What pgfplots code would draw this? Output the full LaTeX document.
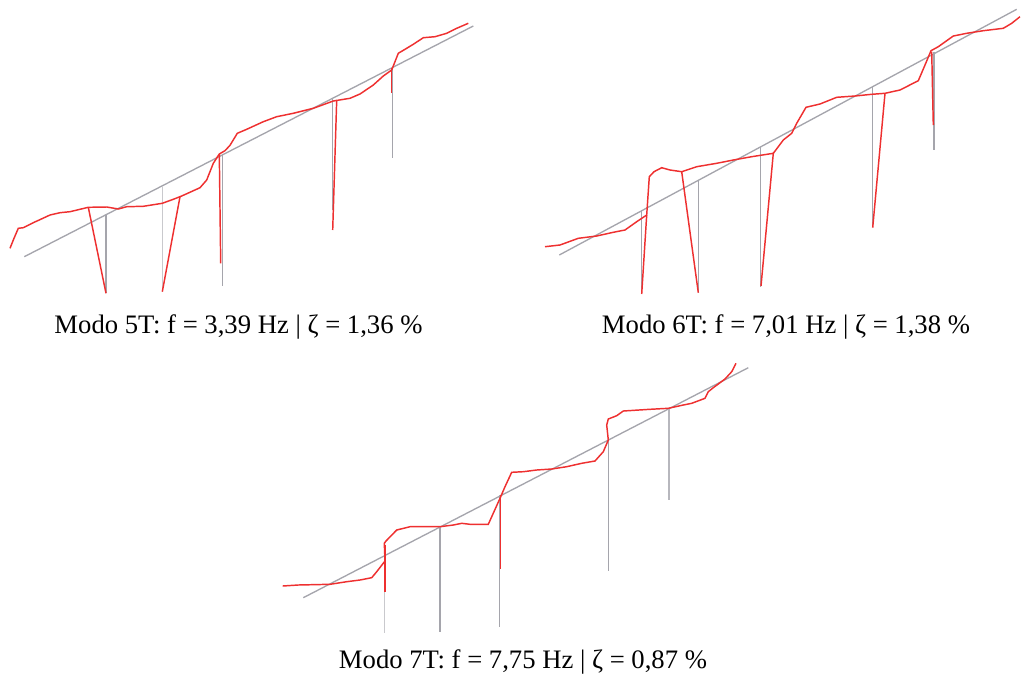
\documentclass[border=0pt]{standalone}
\usepackage{pgfplots}
\pgfplotsset{compat=1.18}
\usepackage{fontspec}
\setmainfont{Liberation Serif}
\definecolor{grayline}{RGB}{165,165,172}
\definecolor{redline}{RGB}{238,48,48}
\begin{document}
\begin{tikzpicture}
\begin{axis}[
  scale only axis, width=765.75pt, height=514.5pt,
  xmin=0, xmax=1021, ymin=0, ymax=686, y dir=reverse,
  hide axis, clip=false,
  every axis plot/.append style={no markers},
]
\path (axis cs:0,0) rectangle (axis cs:1021,686);
% ---------- Panel 1 (Modo 5T) ----------
\addplot[grayline, line width=1pt] coordinates {(24.3,256.7) (473.3,26)};
\addplot[grayline, line width=1pt] coordinates {(106,215) (106,293)};
\addplot[grayline!60, line width=1pt] coordinates {(162.3,186) (162.3,291.7)};
\addplot[grayline, line width=1pt] coordinates {(222.3,154) (222.3,286)};
\addplot[grayline, line width=1pt] coordinates {(332.7,99) (332.7,210)};
\addplot[grayline, line width=1pt] coordinates {(392.7,66.7) (392.7,158.3)};
\addplot[redline, line width=1.1pt] coordinates {
(10,248.3) (14,238.3) (18.3,228.3) (23.3,227.7) (33.3,222.7) (50,215) (60,212.7) (70,211.7) (80,209.3) (88.3,207.3) (106.7,207) (118.3,209) (126.7,206.7) (143.3,206.3) (162.3,203.3) (173.3,199.3) (181.7,196) (200,187.7) (206.7,180) (213.3,163.3) (219.3,154) (225,150.7) (230,145.3) (237.3,133.3) (246.7,129.3) (263.3,121.7) (276.7,116.7) (293.3,113.3) (313.3,108.3) (333.3,101) (350,98.3) (360,94) (373.3,85) (383.3,76) (391.7,70) (398.3,53.3) (405,49.3) (413.3,44.3) (423.3,37.7) (435,36.7) (446.7,33.3) (456.7,28.3) (468.3,23.3)};
\addplot[redline, line width=1.1pt] coordinates {(88.3,207.3) (106,293.3)};
\addplot[redline, line width=1.1pt] coordinates {(180,196.7) (162.3,291.7)};
\addplot[redline, line width=1.1pt] coordinates {(219.3,154) (220.7,263.3)};
\addplot[redline, line width=1.1pt] coordinates {(336.7,100) (332.7,230)};
\addplot[redline, line width=1.1pt] coordinates {(391.7,68.3) (391.7,93.3)};
% ---------- Panel 2 (Modo 6T) ----------
\addplot[grayline, line width=1pt] coordinates {(559.3,255) (1016.7,9.3)};
\addplot[grayline, line width=1pt] coordinates {(641.7,210) (641.7,293.3)};
\addplot[grayline, line width=1pt] coordinates {(698.3,180) (698.3,293.3)};
\addplot[grayline, line width=1pt] coordinates {(760.7,146.7) (760.7,286.7)};
\addplot[grayline, line width=1pt] coordinates {(872.3,86) (872.3,226.7)};
\addplot[grayline, line width=1pt] coordinates {(934,51.7) (934,150)};
\addplot[redline, line width=1.1pt] coordinates {
(545,246.7) (560,245) (578.3,238.3) (596.7,236) (613.3,232.3) (625,230) (636.7,221.7) (646.7,215) (649.3,176.7) (654,171.7) (661.7,167.7) (670,170) (681.7,171.7) (696.7,166.7) (716.7,163.3) (733.3,160) (751.7,156.7) (773.3,153.3) (783.3,140) (791.7,133.3) (796.7,123.3) (806,107.3) (820,104) (836.7,97.3) (855,96) (871.7,94.3) (885,93.3) (900,90) (918.3,80.7) (925,65) (931,50.7) (938.3,46.7) (953.3,36) (966.7,33.3) (983.3,30.7) (1003.3,28.3) (1011.7,23.3) (1020,16.7)};
\addplot[redline, line width=1.1pt] coordinates {(646.7,215) (641.7,294)};
\addplot[redline, line width=1.1pt] coordinates {(681.7,171.7) (698.3,292.7)};
\addplot[redline, line width=1.1pt] coordinates {(773.3,153.3) (761,286)};
\addplot[redline, line width=1.1pt] coordinates {(885,93.3) (872.7,227.7)};
\addplot[redline, line width=1.1pt] coordinates {(931.7,51.7) (933.3,125)};
% ---------- Panel 3 (Modo 7T) ----------
\addplot[grayline, line width=1pt] coordinates {(303.3,597.7) (748.3,367.7)};
\addplot[grayline!60, line width=1pt] coordinates {(384.3,553.3) (384.3,633.3)};
\addplot[grayline, line width=1pt] coordinates {(440,526.7) (440,631.7)};
\addplot[grayline, line width=1pt] coordinates {(499.3,495) (499.3,626.7)};
\addplot[grayline, line width=1pt] coordinates {(608.3,440) (608.3,571)};
\addplot[grayline!80, line width=1pt] coordinates {(669,408.3) (669,500)};
\addplot[redline, line width=1.1pt] coordinates {
(282.7,586) (298.3,585) (330,584.3) (346.7,581.7) (360,580) (371.7,577.7) (376.7,571.7) (385,561) (384.3,543.3) (386,541) (396.7,530) (410,526.7) (440,526.7) (453.3,525) (461.7,523.3) (470,524.3) (488.3,524.3) (500,498.3) (505,486.7) (511.7,472.3) (523.3,471.7) (536.7,470) (551.7,469) (566.7,466.7) (581.7,463.3) (595,461) (603.3,451.7) (608.3,440) (606.7,425) (608.3,419) (616.7,415.7) (623.3,411) (650,409.3) (668.3,408.3) (683.3,405) (691.7,403.3) (705,398.3) (708.3,391.7) (713.3,387.7) (725,379) (731.7,371.7) (736,363.3)};
\addplot[redline, line width=1.1pt] coordinates {(385,545) (385,592.3)};
\addplot[redline, line width=1.1pt] coordinates {(500.7,495) (500.7,569.3)};
% ---------- Captions ----------
\node[font=\fontsize{20}{22}\selectfont] at (axis cs:238.5,327) {Modo 5T: f = 3,39 Hz | ζ = 1,36 \%};
\node[font=\fontsize{20}{22}\selectfont] at (axis cs:786,327) {Modo 6T: f = 7,01 Hz | ζ = 1,38 \%};
\node[font=\fontsize{20}{22}\selectfont] at (axis cs:523,662) {Modo 7T: f = 7,75 Hz | ζ = 0,87 \%};
\end{axis}
\end{tikzpicture}
\end{document}
